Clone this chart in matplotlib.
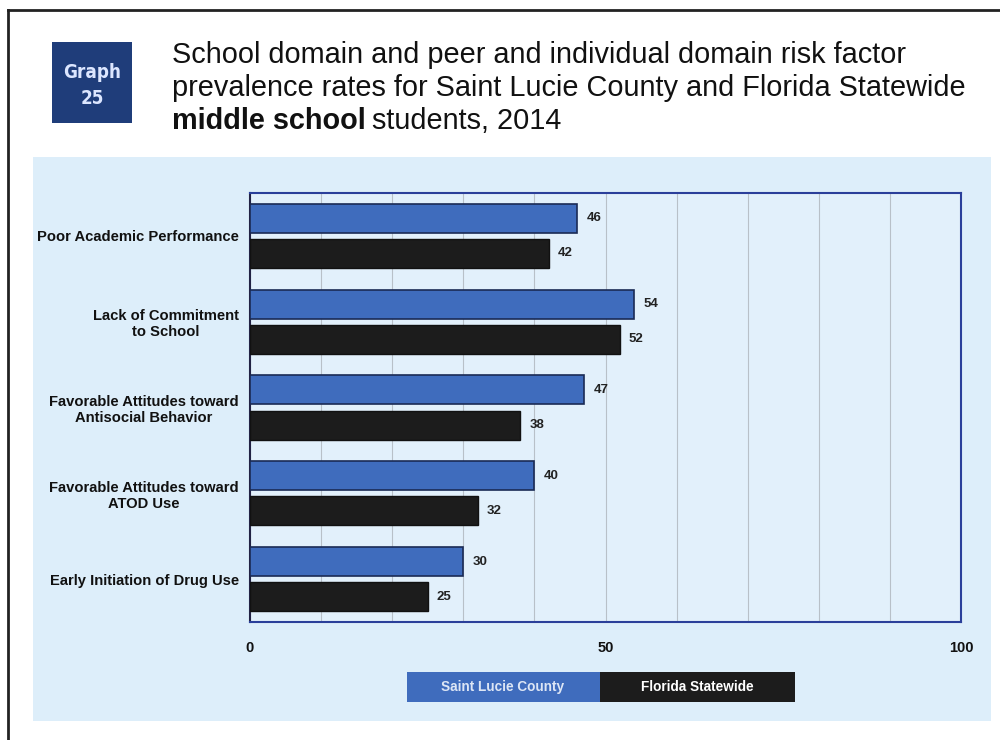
import matplotlib
matplotlib.use("Agg")
import matplotlib.pyplot as plt
from matplotlib.patches import Rectangle
from matplotlib.lines import Line2D
import numpy as np

categories = ["Poor Academic Performance",
              "Lack of Commitment\nto School",
              "Favorable Attitudes toward\nAntisocial Behavior",
              "Favorable Attitudes toward\nATOD Use",
              "Early Initiation of Drug Use"]
saint_lucie = [46, 54, 47, 40, 30]
florida = [42, 52, 38, 32, 25]
series_names = ["Saint Lucie County", "Florida Statewide"]
x_ticks = [0, 50, 100]

plt.rcParams['font.family'] = ['Liberation Sans', 'DejaVu Sans']

W, H = 1000, 740
fig = plt.figure(figsize=(10, 7.4), dpi=100)
fig.patch.set_facecolor('white')

def fx(px):
    return px / W

def fy(py):
    return 1 - py / H

# outer border (top and left visible)
fig.add_artist(Line2D([fx(8), 1.0], [fy(10), fy(10)], transform=fig.transFigure,
                      color='#222222', lw=2, zorder=-5))
fig.add_artist(Line2D([fx(8), fx(8)], [fy(10), 0.0], transform=fig.transFigure,
                      color='#222222', lw=2, zorder=-5))
# light blue panel
fig.add_artist(Rectangle((fx(33), fy(721)), fx(991) - fx(33), fy(157) - fy(721),
                         transform=fig.transFigure, facecolor='#ddeefa', edgecolor='none',
                         zorder=-10))
# Graph badge
fig.add_artist(Rectangle((fx(52), fy(123)), fx(80), fy(42) - fy(123),
                         transform=fig.transFigure, facecolor='#1f3d7a', edgecolor='none',
                         zorder=-5))
fig.text(fx(92), fy(72), "Graph", color='#dce6ff', fontsize=13.5, fontweight='bold',
         ha='center', va='center', family=['DejaVu Sans'], fontstretch='condensed')
fig.text(fx(92), fy(98), "25", color='#dce6ff', fontsize=13.5, fontweight='bold',
         ha='center', va='center', family=['DejaVu Sans'], fontstretch='condensed')

# Title
TS = 20.8
fig.text(fx(172), fy(55), "School domain and peer and individual domain risk factor",
         fontsize=TS, ha='left', va='center', color='#111111')
fig.text(fx(172), fy(88), "prevalence rates for Saint Lucie County and Florida Statewide",
         fontsize=TS, ha='left', va='center', color='#111111')
t1 = fig.text(fx(172), fy(121), "middle school", fontsize=TS, fontweight='bold',
              ha='left', va='center', color='#111111')
fig.canvas.draw()
bb = t1.get_window_extent()
fig.text(bb.x1 / W + fx(6), fy(121), "students, 2014", fontsize=TS,
         ha='left', va='center', color='#111111')

# plot axes
ax = fig.add_axes([fx(250), fy(622), fx(961) - fx(250), fy(193) - fy(622)])
ax.set_facecolor('#e2f0fb')
n = len(categories)
y = np.arange(n)
off = 0.205
h = 0.34
ax.barh(y - off, saint_lucie, height=h, color='#3f6cbd', edgecolor='#1a2a55', lw=1.2, zorder=3)
ax.barh(y + off, florida, height=h, color='#1c1c1c', edgecolor='#111111', lw=1.0, zorder=3)
for i in range(n):
    ax.text(saint_lucie[i] + 1.3, y[i] - off, str(saint_lucie[i]), fontsize=9.5,
            fontweight='bold', va='center', ha='left', color='#222222')
    ax.text(florida[i] + 1.3, y[i] + off, str(florida[i]), fontsize=9.5,
            fontweight='bold', va='center', ha='left', color='#222222')

ax.set_xlim(0, 100)
ax.set_ylim(n - 0.5, -0.5)
ax.set_xticks(np.arange(0, 101, 10), minor=True)
ax.set_xticks(x_ticks)
ax.set_xticklabels([str(t) for t in x_ticks], fontsize=10.5, fontweight='bold', color='#111111')
ax.grid(axis='x', which='both', color='#b8c0c8', lw=0.8, zorder=0)
ax.tick_params(axis='x', which='both', length=0, pad=14)
ax.set_yticks(y)
ax.set_yticklabels(categories, fontsize=10.6, fontweight='bold', color='#111111',
                   multialignment='center')
ax.tick_params(axis='y', length=0, pad=8)
for s in ['top', 'right', 'bottom']:
    ax.spines[s].set_color('#2a3f9a')
    ax.spines[s].set_linewidth(1.5)
ax.spines['left'].set_color('#222244')
ax.spines['left'].set_linewidth(1.5)

# legend boxes
fig.add_artist(Rectangle((fx(407), fy(702)), fx(193), fy(672) - fy(702),
                         transform=fig.transFigure, facecolor='#3f6cbd', edgecolor='none'))
fig.add_artist(Rectangle((fx(600), fy(702)), fx(195), fy(672) - fy(702),
                         transform=fig.transFigure, facecolor='#1c1c1c', edgecolor='none'))
fig.text(fx(503), fy(687), series_names[0], color='#dde6f5', fontsize=9.8, fontweight='bold',
         ha='center', va='center')
fig.text(fx(697), fy(687), series_names[1], color='white', fontsize=9.8, fontweight='bold',
         ha='center', va='center')

fig.savefig("out.png", dpi=100, facecolor='white')
